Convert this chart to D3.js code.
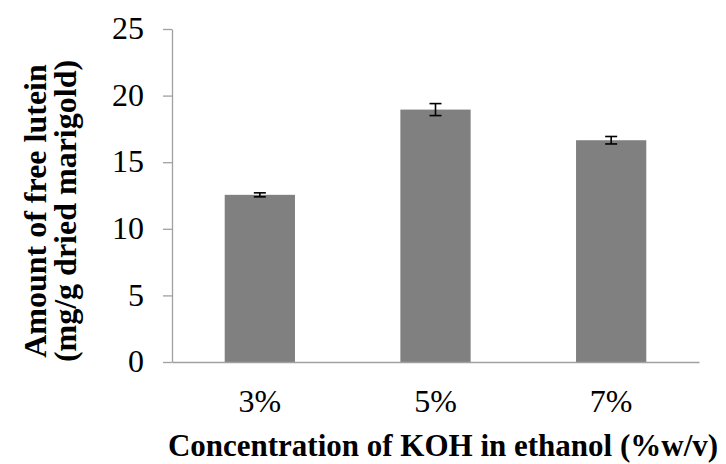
<!DOCTYPE html>
<html>
<head>
<meta charset="utf-8">
<script src="https://cdn.jsdelivr.net/npm/d3@7"></script>
<style>
  body { margin: 0; background: #fff; }
  svg text { font-family: "Liberation Serif", "Times New Roman", serif; fill: #000; }
</style>
</head>
<body>
<div id="chart"></div>
<script>
// data
var categories = ["3%", "5%", "7%"];
var values = [12.55, 18.95, 16.65];
var errors = [0.15, 0.45, 0.28];
var yTicks = [0, 5, 10, 15, 20, 25];

var width = 726, height = 464;
var margin = {top: 29, right: 27, bottom: 102, left: 172};
var innerW = width - margin.left - margin.right,
    innerH = height - margin.top - margin.bottom;

var svg = d3.select("#chart").append("svg")
    .attr("width", width)
    .attr("height", height);

var g = svg.append("g")
    .attr("transform", "translate(" + margin.left + "," + margin.top + ")");

var x = d3.scaleBand()
    .domain(categories)
    .range([0, innerW])
    .paddingInner(0.6)
    .paddingOuter(0.3);

var y = d3.scaleLinear()
    .domain([0, 25])
    .range([innerH, 0]);

// bars
g.selectAll(".bar")
    .data(values)
    .enter().append("rect")
    .attr("class", "bar")
    .attr("x", function(d, i) { return x(categories[i]); })
    .attr("y", function(d) { return y(d); })
    .attr("width", x.bandwidth())
    .attr("height", function(d) { return innerH - y(d); })
    .attr("fill", "#808080");

// error bars
var eb = g.selectAll(".err")
    .data(values)
    .enter().append("g")
    .attr("class", "err")
    .attr("stroke", "#000")
    .attr("stroke-width", 1.6);

eb.append("line")
    .attr("x1", function(d, i) { return x(categories[i]) + x.bandwidth() / 2; })
    .attr("x2", function(d, i) { return x(categories[i]) + x.bandwidth() / 2; })
    .attr("y1", function(d, i) { return y(d + errors[i]); })
    .attr("y2", function(d, i) { return y(d - errors[i]); });

[1, -1].forEach(function(s) {
  eb.append("line")
      .attr("x1", function(d, i) { return x(categories[i]) + x.bandwidth() / 2 - 6; })
      .attr("x2", function(d, i) { return x(categories[i]) + x.bandwidth() / 2 + 6; })
      .attr("y1", function(d, i) { return y(d + s * errors[i]); })
      .attr("y2", function(d, i) { return y(d + s * errors[i]); });
});

// y axis
var yAxis = g.append("g")
    .call(d3.axisLeft(y).tickValues(yTicks).tickSize(9).tickPadding(19).tickSizeOuter(0));
yAxis.select(".domain").attr("stroke", "#a0a0a0").attr("stroke-width", 1.3);
yAxis.selectAll(".tick line").attr("stroke", "#a0a0a0").attr("stroke-width", 1.3);
yAxis.selectAll(".tick text")
    .style("font-size", "32px")
    .attr("dy", "0.3em");

// x axis
var xAxis = g.append("g")
    .attr("transform", "translate(0," + innerH + ")")
    .call(d3.axisBottom(x).tickSize(0).tickSizeOuter(0));
xAxis.select(".domain").attr("stroke", "#a0a0a0").attr("stroke-width", 1.3);
xAxis.selectAll(".tick text")
    .style("font-size", "32px")
    .attr("y", 50)
    .attr("dy", 0);

// axis titles
svg.append("text")
    .attr("x", 443)
    .attr("y", 456)
    .attr("text-anchor", "middle")
    .style("font-size", "31px")
    .style("font-weight", "bold")
    .text("Concentration of KOH in ethanol (%w/v)");

var yt = svg.append("text")
    .attr("transform", "translate(46,211) rotate(-90)")
    .attr("text-anchor", "middle")
    .style("font-size", "32px")
    .style("font-weight", "bold");
yt.append("tspan").attr("x", 0).attr("y", 0).text("Amount of free lutein");
yt.append("tspan").attr("x", 0).attr("y", 30).text("(mg/g dried marigold)");
</script>
</body>
</html>
